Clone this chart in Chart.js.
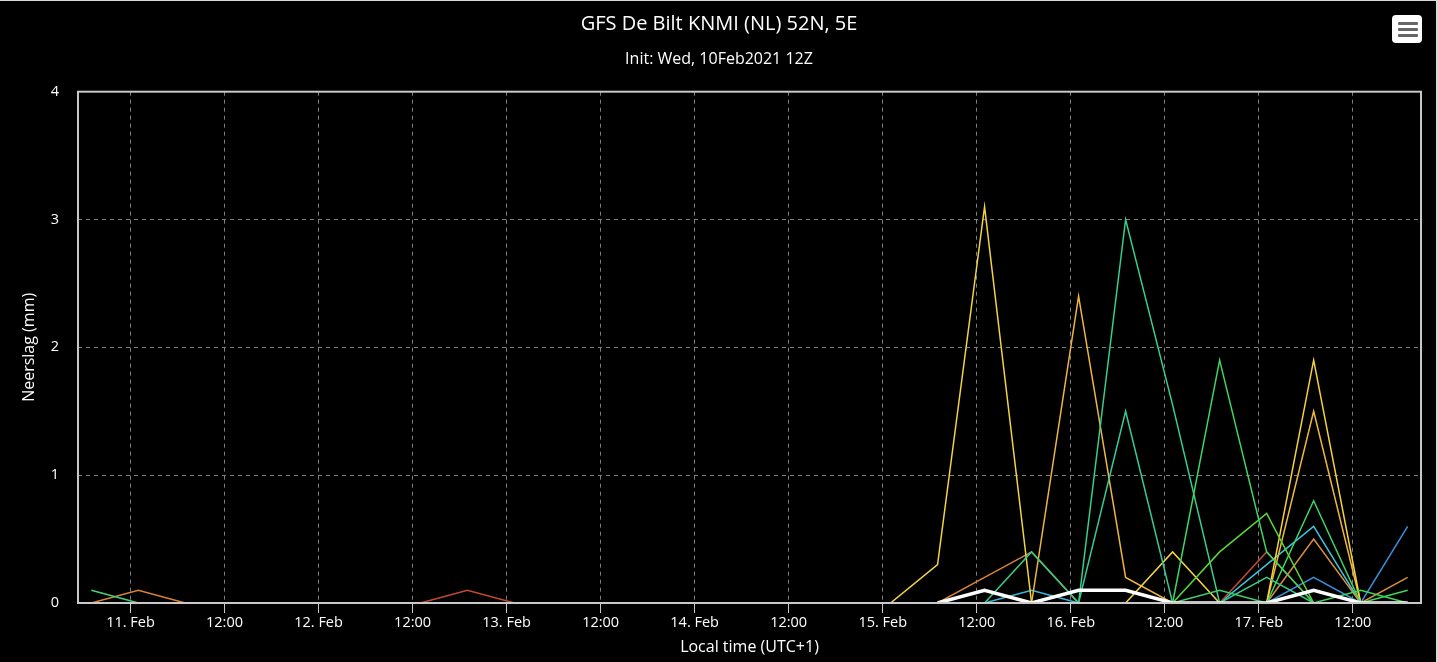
<!DOCTYPE html>
<html>
<head>
<meta charset="utf-8">
<script src="https://cdn.jsdelivr.net/npm/chart.js@4/dist/chart.umd.min.js"></script>
<style>
  html, body { margin: 0; padding: 0; background: #000; }
  #wrap { position: relative; width: 1438px; height: 662px; background: #000; overflow: hidden; }
  #frame { position: absolute; left: 0; top: 0; width: 1436px; height: 661px; border-top: 1px solid #d8d8d8; border-right: 2px solid #d8d8d8; pointer-events: none; }
  #menu { position: absolute; left: 1392px; top: 15px; width: 30px; height: 28px; background: #fff; border-radius: 4px; }
  #menu span { position: absolute; left: 6px; width: 20px; height: 3px; background: #666; border-radius: 1px; }
</style>
</head>
<body>
<div id="wrap">
  <canvas id="c" width="1438" height="662"></canvas>
  <div id="frame"></div>
  <div id="menu"><span style="top:7px"></span><span style="top:13px"></span><span style="top:19px"></span></div>
</div>
<script>
// Hours relative to 11 Feb 00:00 local time (UTC+1), 6-hourly steps
const times = [-5, 1, 7, 13, 19, 25, 31, 37, 43, 49, 55, 61, 67, 73, 79, 85, 91, 97, 103, 109, 115, 121, 127, 133, 139, 145, 151, 157, 163];

// X axis tick positions (hours) and their labels
const tickHours = [0, 12, 24, 36, 48, 60, 72, 84, 96, 108, 120, 132, 144, 156];
const tickLabels = ["11. Feb", "12:00", "12. Feb", "12:00", "13. Feb", "12:00", "14. Feb", "12:00", "15. Feb", "12:00", "16. Feb", "12:00", "17. Feb", "12:00"];

// Y axis ticks
const yTicks = [0, 1, 2, 3, 4];

// Ensemble members (precipitation, mm)
const meanLine   = [null,null,null,null,null,null,null,null,null,null,null,null,null,null,null,null,null,null,0,0.1,0,0.1,0.1,0,0,0,0.1,0,0];
const memGreenA  = [0,0,0,0,0,0,0,0,0,0,0,0,0,0,0,0,0,0,0,0,0,0,0,0,0,0,0,0,0.1];
const memGreenB  = [0,0,0,0,0,0,0,0,0,0,0,0,0,0,0,0,0,0,0,0,0,0,0,0,0,0,0,0.1,0];
const memGreenC  = [0.1,0,0,0,0,0,0,0,0,0,0,0,0,0,0,0,0,0,0,0,0,0,0,0,0,0,0,0,0];
const memGreenD  = [0,0,0,0,0,0,0,0,0,0,0,0,0,0,0,0,0,0,0,0,0,0,0,0,1.9,0.4,0,0,0];
const memLime    = [0,0,0,0,0,0,0,0,0,0,0,0,0,0,0,0,0,0,0,0,0,0,0,0,0.4,0.7,0,0,0];
const memGreenE  = [0,0,0,0,0,0,0,0,0,0,0,0,0,0,0,0,0,0,0,0,0,0,0,0,0.1,0,0,0,0];
const memGreenF  = [0,0,0,0,0,0,0,0,0,0,0,0,0,0,0,0,0,0,0,0,0,0,0,0,0,0,0.8,0,0];
const memMintA   = [0,0,0,0,0,0,0,0,0,0,0,0,0,0,0,0,0,0,0,0,0,0,3.0,1.55,0,0,0,0,0];
const memMintB   = [0,0,0,0,0,0,0,0,0,0,0,0,0,0,0,0,0,0,0,0,0,0,1.5,0,0,0,0,0,0];
const memMintC   = [0,0,0,0,0,0,0,0,0,0,0,0,0,0,0,0,0,0,0,0,0.4,0,0,0,0,0,0,0,0];
const memMintD   = [0,0,0,0,0,0,0,0,0,0,0,0,0,0,0,0,0,0,0,0,0,0,0,0,0,0.2,0,0,0];
const memYellowA = [0,0,0,0,0,0,0,0,0,0,0,0,0,0,0,0,0,0,0.3,3.1,0,0,0,0,0,0,0,0,0];
const memYellowB = [0,0,0,0,0,0,0,0,0,0,0,0,0,0,0,0,0,0,0,0,0,0,0,0.4,0,0,0,0,0];
const memYellowC = [0,0,0,0,0,0,0,0,0,0,0,0,0,0,0,0,0,0,0,0,0,0,0,0,0,0,1.9,0,0];
const memAmberA  = [0,0,0,0,0,0,0,0,0,0,0,0,0,0,0,0,0,0,0,0,0,2.4,0.2,0,0,0,0,0,0];
const memAmberB  = [0,0,0,0,0,0,0,0,0,0,0,0,0,0,0,0,0,0,0,0,0,0,0,0,0,0,1.5,0,0];
const memOrangeA = [0,0.1,0,0,0,0,0,0,0,0,0,0,0,0,0,0,0,0,0,0.2,0.4,0,0,0,0,0,0,0,0];
const memOrangeB = [0,0,0,0,0,0,0,0,0,0,0,0,0,0,0,0,0,0,0,0,0,0,0,0,0,0,0.5,0,0.2];
const memRed     = [0,0,0,0,0,0,0,0,0.1,0,0,0,0,0,0,0,0,0,0,0,0,0,0,0,0,0.4,0,0,0];
const memCyanA   = [0,0,0,0,0,0,0,0,0,0,0,0,0,0,0,0,0,0,0,0,0.1,0,0,0,0,0,0,0,0];
const memCyanB   = [0,0,0,0,0,0,0,0,0,0,0,0,0,0,0,0,0,0,0,0,0,0,0,0,0,0.3,0.6,0,0];
const memBlue    = [0,0,0,0,0,0,0,0,0,0,0,0,0,0,0,0,0,0,0,0,0,0,0,0,0,0,0.2,0,0.6];

const seriesList = [
  { values: meanLine,   color: "#ffffff", width: 3.5 },
  { values: memGreenA,  color: "#3fd65c", width: 1.5 },
  { values: memGreenB,  color: "#3fd65c", width: 1.5 },
  { values: memGreenC,  color: "#45d27a", width: 1.5 },
  { values: memGreenD,  color: "#3fd662", width: 1.5 },
  { values: memLime,    color: "#5ad832", width: 1.5 },
  { values: memGreenE,  color: "#3fcf6a", width: 1.5 },
  { values: memGreenF,  color: "#3fd466", width: 1.5 },
  { values: memMintA,   color: "#35d08e", width: 1.5 },
  { values: memMintB,   color: "#35c994", width: 1.5 },
  { values: memMintC,   color: "#36cc80", width: 1.5 },
  { values: memMintD,   color: "#35c98c", width: 1.5 },
  { values: memYellowA, color: "#f4d444", width: 1.5 },
  { values: memYellowB, color: "#f4d444", width: 1.5 },
  { values: memYellowC, color: "#f6d23a", width: 1.5 },
  { values: memAmberA,  color: "#eeb640", width: 1.5 },
  { values: memAmberB,  color: "#efb63c", width: 1.5 },
  { values: memOrangeA, color: "#d8833a", width: 1.5 },
  { values: memOrangeB, color: "#d98d3e", width: 1.5 },
  { values: memRed,     color: "#c24a32", width: 1.5 },
  { values: memCyanA,   color: "#3bb8dc", width: 1.5 },
  { values: memCyanB,   color: "#3cc4de", width: 1.5 },
  { values: memBlue,    color: "#3a8edc", width: 1.5 }
];

const datasets = seriesList.map((s) => ({
  data: times.map((t, i) => ({ x: t, y: s.values[i] })),
  borderColor: s.color,
  borderWidth: s.width,
  pointRadius: 0,
  pointHoverRadius: 0,
  tension: 0,
  fill: false,
  spanGaps: false,
  yAxisID: "y"
}));

const plotFrame = {
  id: "plotFrame",
  afterDatasetsDraw(chart) {
    const a = chart.chartArea, ctx = chart.ctx;
    ctx.save();
    ctx.strokeStyle = "#c8c8c8";
    ctx.lineWidth = 2;
    ctx.strokeRect(a.left, a.top, a.right - a.left, a.bottom - a.top);
    ctx.restore();
  }
};

const FONT = "'Open Sans', 'DejaVu Sans', sans-serif";

new Chart(document.getElementById("c"), {
  type: "line",
  data: { datasets },
  plugins: [plotFrame],
  options: {
    responsive: false,
    devicePixelRatio: 1,
    animation: false,
    events: [],
    layout: { padding: { left: 0, right: 0, top: 0, bottom: 0 } },
    plugins: {
      legend: { display: false },
      tooltip: { enabled: false },
      title: {
        display: true,
        text: "GFS De Bilt KNMI (NL) 52N, 5E",
        color: "#ffffff",
        font: { family: FONT, size: 20, weight: "normal", lineHeight: 1.2 },
        padding: { top: 12, bottom: 8 }
      },
      subtitle: {
        display: true,
        text: "Init: Wed, 10Feb2021 12Z",
        color: "#ffffff",
        font: { family: FONT, size: 16, weight: "normal", lineHeight: 1.2 },
        padding: { top: 6, bottom: 22.5 }
      }
    },
    scales: {
      x: {
        type: "linear",
        min: -6.7,
        max: 164.7,
        afterBuildTicks: (scale) => { scale.ticks = tickHours.map((v) => ({ value: v })); },
        afterFit: (scale) => { scale.height = 59; },
        ticks: {
          autoSkip: false,
          maxRotation: 0,
          color: "#ffffff",
          padding: 1,
          font: { family: FONT, size: 14.5 },
          callback: (value, index) => tickLabels[index]
        },
        grid: {
          color: "rgba(170,170,170,0.75)",
          lineWidth: 1,
          drawTicks: true,
          tickLength: 10,
          tickColor: "#c8c8c8",
          tickBorderDash: []
        },
        border: { display: false, dash: [4, 4] },
        title: {
          display: true,
          text: "Local time (UTC+1)",
          color: "#ffffff",
          font: { family: FONT, size: 16 },
          padding: { top: 0, bottom: 5 }
        }
      },
      y: {
        type: "linear",
        position: "left",
        min: 0,
        max: 4,
        afterBuildTicks: (scale) => { scale.ticks = yTicks.map((v) => ({ value: v })); },
        afterFit: (scale) => { scale.width = 78; },
        ticks: {
          color: "#ffffff",
          padding: 19,
          font: { family: FONT, size: 14.5 },
          callback: (value) => String(value)
        },
        grid: {
          color: "rgba(170,170,170,0.75)",
          lineWidth: 1,
          drawTicks: false
        },
        border: { display: false, dash: [4, 4] },
        title: {
          display: true,
          text: "Neerslag (mm)",
          color: "#ffffff",
          font: { family: FONT, size: 16 },
          padding: { top: 20, bottom: 0 }
        }
      },
      yRight: {
        type: "linear",
        position: "right",
        display: true,
        min: 0,
        max: 4,
        afterFit: (scale) => { scale.width = 17; },
        ticks: { display: false },
        grid: { display: false, drawTicks: false },
        border: { display: false },
        title: { display: false }
      }
    }
  }
});
</script>
</body>
</html>
